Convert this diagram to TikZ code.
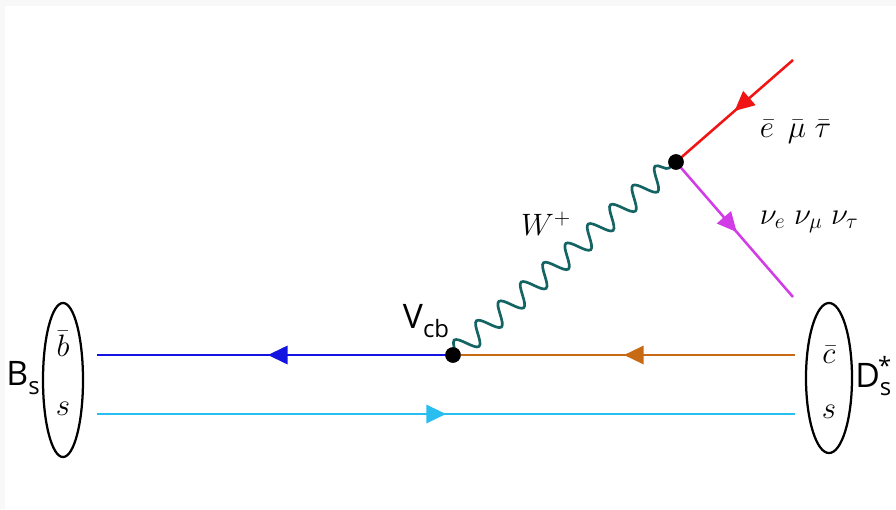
\RequirePackage{fix-cm}
\documentclass[tikz,border=0pt]{standalone}
\usepackage{fontspec}
\newfontfamily\labfont{Open Sans}
\usetikzlibrary{arrows.meta,decorations.pathmorphing,decorations.markings,shapes.geometric}
\definecolor{cblue}{RGB}{20,20,225}
\definecolor{ccyan}{RGB}{40,190,240}
\definecolor{corange}{RGB}{200,105,20}
\definecolor{cred}{RGB}{240,20,20}
\definecolor{cmag}{RGB}{210,60,230}
\definecolor{cteal}{RGB}{20,100,100}
\definecolor{edge}{RGB}{248,248,248}
\newcommand{\subsf}[1]{\raisebox{-6pt}{\fontsize{17}{19}\selectfont #1}}
\tikzset{
  fermion/.style={line width=1.8pt,postaction={decorate},decoration={markings,mark=at position #1 with {\arrow{Triangle[length=14pt,width=13pt]}}}},
  fermion/.default=0.5,
  boson/.style={cteal,line width=1.9pt,decorate,decoration={snake,amplitude=7.5pt,segment length=21pt,pre length=1pt,post length=1pt}},
  vertex/.style={circle,fill=black,inner sep=0pt,minimum size=11pt},
  hadron/.style={ellipse,draw,line width=1.6pt,inner sep=0pt},
  qlab/.style={font=\fontsize{22}{26}\selectfont},
  slab/.style={font=\labfont\fontsize{24}{28}\selectfont},
}
\begin{document}
\begin{tikzpicture}[x=0.025cm,y=-0.025cm]
\fill[edge] (0,0) rectangle (896,509);
\fill[white] (5,6) rectangle (896,509);
\useasboundingbox (0,0) rectangle (896,509);
% hadrons
\node[hadron,minimum width=1.0cm,minimum height=3.85cm] (Bs) at (63,380) {};
\node[hadron,minimum width=1.15cm,minimum height=3.75cm] (Ds) at (829,378) {};
\node[qlab] (bq) at (63,344) {$\bar b$};
\node[qlab] (sq1) at (63,409) {$s$};
\node[qlab] (cq) at (829,355) {$\bar c$};
\node[qlab] (sq2) at (829,412) {$s$};
\node[slab,anchor=east,inner sep=0pt] (BsL) at (40,378) {B\subsf{s}};
\node[slab,anchor=west,inner sep=0pt] (DsL) at (855,376) {D\subsf{s}\llap{\raisebox{9pt}{\fontsize{17}{19}\selectfont *}}};
% vertices
\node[vertex] (v1) at (453,355) {};
\node[vertex] (v2) at (676,162) {};
% endpoints
\coordinate (bl) at (97,355);
\coordinate (orr) at (795,355);
\coordinate (cl) at (97,414);
\coordinate (cr) at (795,414);
\coordinate (ein) at (793,60);
\coordinate (nout) at (793,297);
% lines
\draw[fermion=0.52,cblue] (v1.center) -- (bl);
\draw[fermion=0.5,corange] (orr) -- (v1.center);
\draw[fermion=0.5,ccyan] (cl) -- (cr);
\draw[fermion=0.5,cred] (ein) -- (v2.center);
\draw[fermion=0.52,cmag] (v2.center) -- (nout);
\draw[boson] (v1.center) -- (v2.center);
\node[vertex] at (v1) {};
\node[vertex] at (v2) {};
% labels
\node[qlab] (W) at (546,224) {$W^{+}$};
\node[slab,inner sep=0pt] (V) at (426,321) {V\subsf{cb}};
\node[qlab,anchor=west] (lep) at (755,132) {$\bar e\;\,\bar\mu\;\bar\tau$};
\node[qlab,anchor=west] (nu) at (755,222) {$\nu_e\;\nu_\mu\;\nu_\tau$};
\end{tikzpicture}
\end{document}
